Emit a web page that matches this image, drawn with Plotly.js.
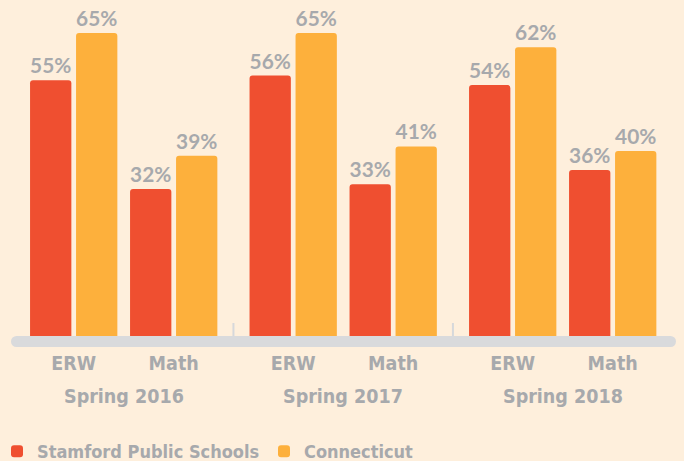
<!DOCTYPE html>
<html>
<head>
<meta charset="utf-8">
<script src="https://cdn.plot.ly/plotly-3.0.1.min.js"></script>
<style>
html,body{margin:0;padding:0;background:#FEEFDC;}
#chart{width:684px;height:461px;}
</style>
</head>
<body>
<div id="chart"></div>
<script>
const years = ['Spring 2016', 'Spring 2017', 'Spring 2018'];
const subjects = ['ERW', 'Math'];
const stamford = [55, 32, 56, 33, 54, 36];
const connecticut = [65, 39, 65, 41, 62, 40];
const seriesNames = ['Stamford Public Schools', 'Connecticut'];

const YEAR_STEP = 2.195;
const GRAY = '#A7A9AC';
const xs = [], ticktext = [];
years.forEach((y, i) => subjects.forEach((s, j) => { xs.push(i * YEAR_STEP + j); ticktext.push(s); }));

const valueFont = {family: 'Lato, "Open Sans", sans-serif', size: 21, color: GRAY, weight: 'bold'};
function trace(name, vals, color) {
  return {
    type: 'bar', name: name, x: xs, y: vals,
    marker: {color: color, cornerradius: 3},
    text: vals.map(v => v + '%'), textposition: 'outside',
    textfont: valueFont, cliponaxis: false, hoverinfo: 'skip'
  };
}
const data = [trace(seriesNames[0], stamford, '#EF4F30'), trace(seriesNames[1], connecticut, '#FDB03C')];

const condensed = {family: '"DejaVu Sans Condensed", "Liberation Sans Narrow", sans-serif', size: 19.5, color: GRAY, weight: 'bold'};
const legendFont = Object.assign({}, condensed, {size: 18});

const shapes = [
  {type: 'rect', xref: 'paper', yref: 'paper', x0: 16.5/684, x1: 670.5/684, y0: -7/340, y1: 4/340,
   fillcolor: '#D9DADC', line: {width: 0}, layer: 'above'},
  {type: 'circle', xref: 'paper', yref: 'paper', xsizemode: 'pixel', ysizemode: 'pixel',
   xanchor: 16.5/684, yanchor: -1.5/340, x0: -5.5, x1: 5.5, y0: -5.5, y1: 5.5,
   fillcolor: '#D9DADC', line: {width: 0}, layer: 'above'},
  {type: 'circle', xref: 'paper', yref: 'paper', xsizemode: 'pixel', ysizemode: 'pixel',
   xanchor: 670.5/684, yanchor: -1.5/340, x0: -5.5, x1: 5.5, y0: -5.5, y1: 5.5,
   fillcolor: '#D9DADC', line: {width: 0}, layer: 'above'}
];
for (let i = 0; i < years.length - 1; i++) {
  const xm = (i * YEAR_STEP + 1 + (i + 1) * YEAR_STEP) / 2;
  shapes.push({type: 'line', xref: 'x', yref: 'y', x0: xm, x1: xm, y0: 0, y1: 3.6,
    line: {color: '#D6D8DB', width: 2}, layer: 'below'});
}

const annotations = years.map((y, i) => ({
  text: y, xref: 'x', yref: 'paper', x: i * YEAR_STEP + 0.5, y: -56/340,
  yanchor: 'middle', xanchor: 'center', showarrow: false, font: condensed
}));

const layout = {
  width: 684, height: 461,
  margin: {l: 0, r: 0, t: 0, b: 121, pad: 0, autoexpand: false},
  paper_bgcolor: '#FEEFDC', plot_bgcolor: '#FEEFDC',
  barmode: 'group', bargap: 0.08, bargroupgap: 0.102,
  xaxis: {range: [-0.737, 6.103], tickvals: xs, ticktext: ticktext, showgrid: false, zeroline: false,
          showline: false, ticks: '', tickfont: condensed, ticklabelstandoff: 9, fixedrange: true,
          automargin: false},
  yaxis: {range: [0, 72], visible: false, fixedrange: true},
  showlegend: true,
  legend: {orientation: 'h', xref: 'paper', yref: 'paper', x: -3/684, xanchor: 'left',
           y: -130/340, yanchor: 'bottom',
           font: legendFont, entrywidth: 222, entrywidthmode: 'pixels', bgcolor: 'rgba(0,0,0,0)'},
  shapes: shapes, annotations: annotations
};
Plotly.newPlot('chart', data, layout, {displayModeBar: false, staticPlot: true});
</script>
</body>
</html>
